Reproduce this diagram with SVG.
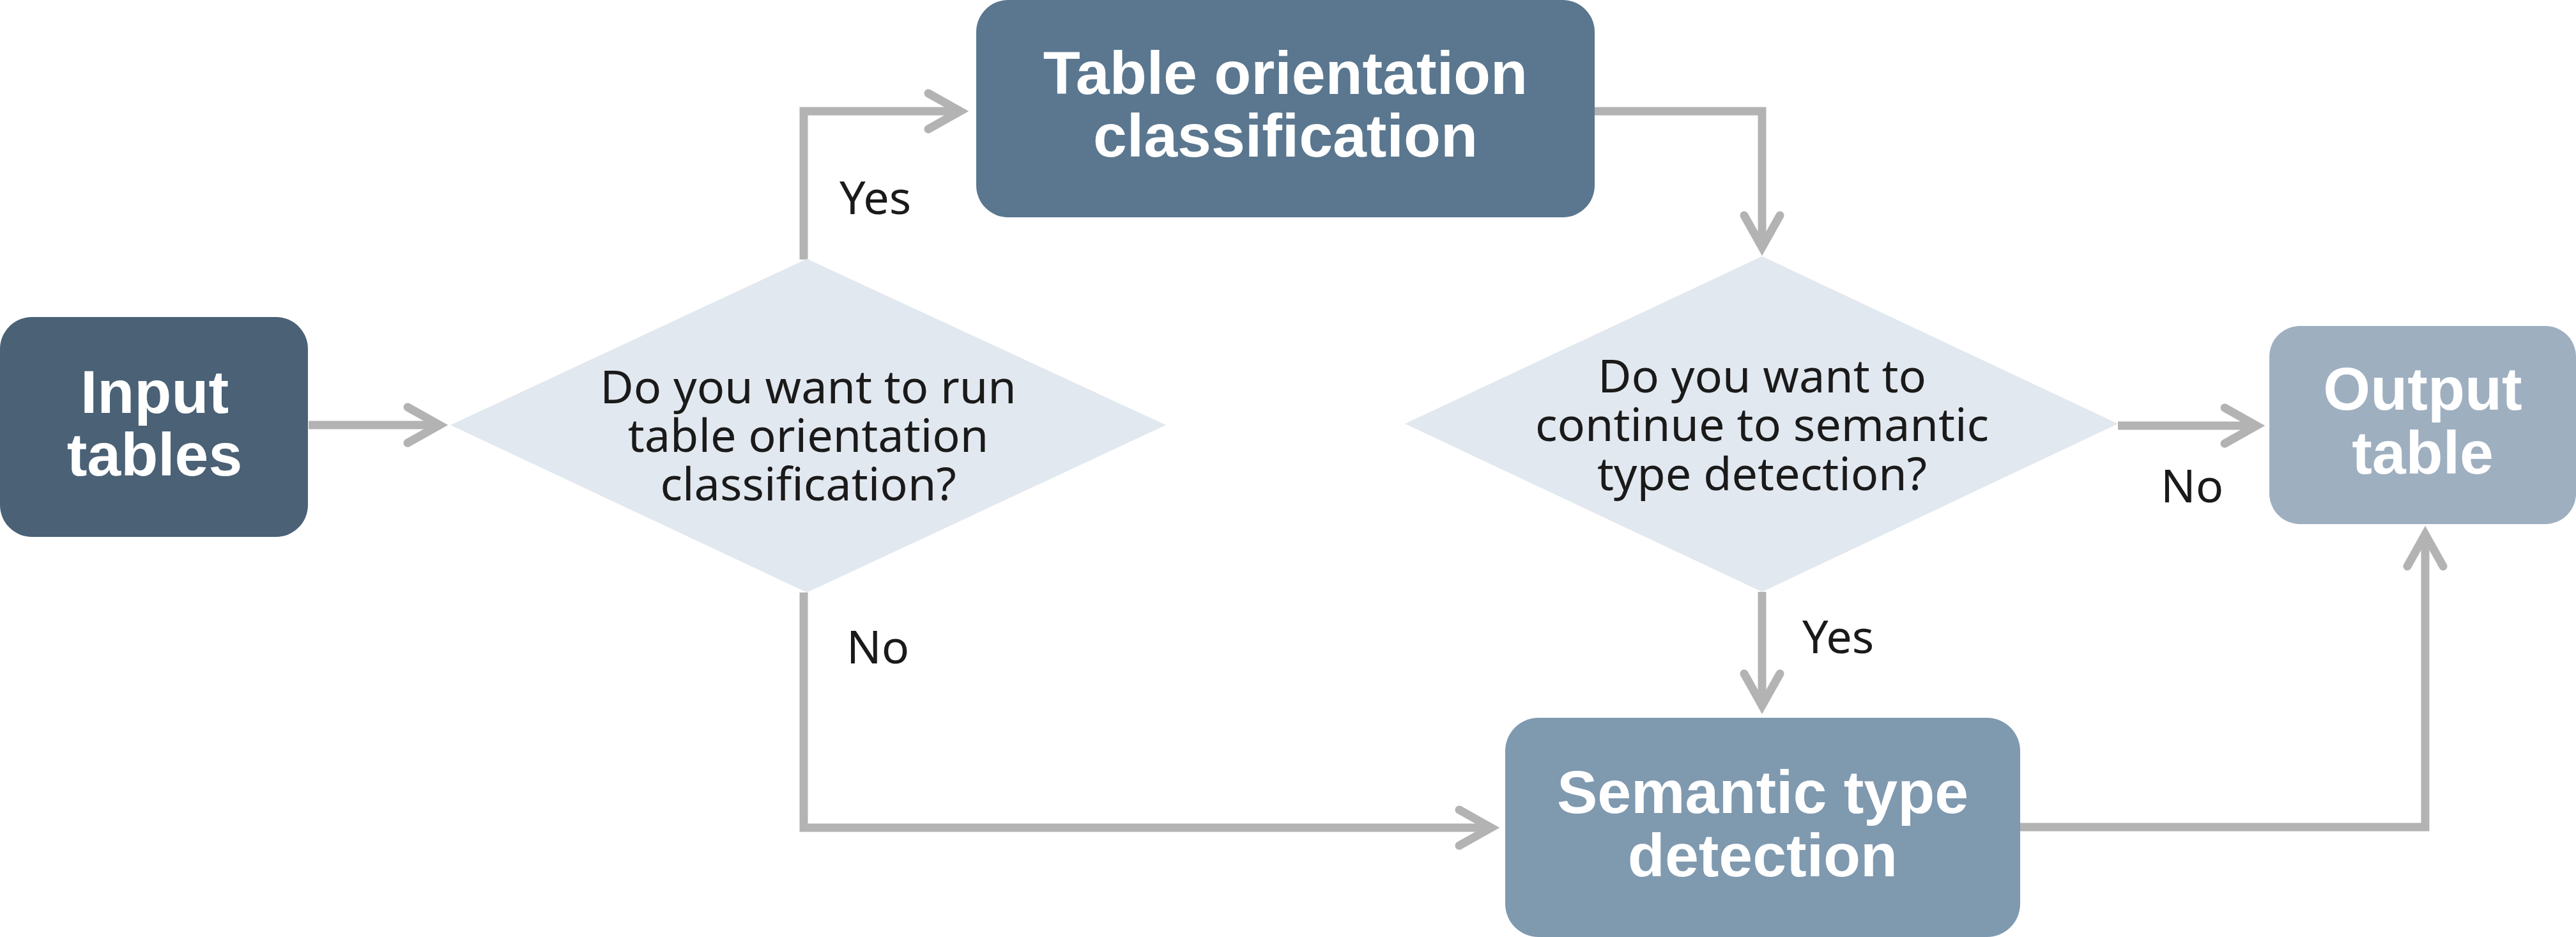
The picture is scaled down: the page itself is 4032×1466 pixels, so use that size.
<svg xmlns="http://www.w3.org/2000/svg" width="4032" height="1466" viewBox="0 0 4032 1466">
<style>
.title{font-family:"Liberation Sans",Arial,sans-serif;font-weight:bold;font-size:95px;fill:#ffffff;text-anchor:middle}
.q{font-family:"Noto Sans","Liberation Sans",sans-serif;font-size:72px;fill:#1a1a1a;text-anchor:middle}
.lbl{font-family:"Noto Sans","Liberation Sans",sans-serif;font-size:72px;fill:#1a1a1a}
.conn{fill:none;stroke:#b3b3b3;stroke-width:13;stroke-linejoin:miter}
.diamond{fill:#e2e8ef}
</style>
<defs>
<marker id="chev" markerUnits="userSpaceOnUse" viewBox="-80 -50 110 100" refX="0" refY="0" markerWidth="110" markerHeight="100" orient="auto" overflow="visible">
<path d="M-50,-28 L0,0 L-50,28" fill="none" stroke="#b3b3b3" stroke-width="13" stroke-linecap="round" stroke-linejoin="miter"/>
</marker>
</defs>
<rect width="4032" height="1466" fill="#ffffff"/>
<g id="connectors">
<path class="conn" d="M483,665 H688" marker-end="url(#chev)"/>
<path class="conn" d="M1258,406 V174 H1503" marker-end="url(#chev)"/>
<path class="conn" d="M2496,174 H2758 V387" marker-end="url(#chev)"/>
<path class="conn" d="M3315,666 H3532" marker-end="url(#chev)"/>
<path class="conn" d="M2758,926 V1104" marker-end="url(#chev)"/>
<path class="conn" d="M1258,927 V1295 H2334" marker-end="url(#chev)"/>
<path class="conn" d="M3162,1294 H3796 V836" marker-end="url(#chev)"/>
</g>
<g id="input-tables">
<rect x="0" y="496" width="482" height="344" rx="50" fill="#4a6176"/>
<text class="title" x="242" y="646">Input</text>
<text class="title" x="242" y="744">tables</text>
</g>
<g id="decision-orientation">
<polygon class="diamond" points="705,665 1263,405 1825,665 1263,927"/>
<text class="q" x="1265" y="631">Do you want to run</text>
<text class="q" x="1265" y="707">table orientation</text>
<text class="q" x="1265" y="783">classification?</text>
</g>
<g id="table-orientation">
<rect x="1528" y="0" width="968" height="340" rx="50" fill="#5a778f"/>
<text class="title" x="2012" y="147">Table orientation</text>
<text class="title" x="2012" y="245">classification</text>
</g>
<g id="decision-semantic">
<polygon class="diamond" points="2199,663 2758,401 3315,663 2758,926"/>
<text class="q" x="2758" y="614">Do you want to</text>
<text class="q" x="2758" y="690">continue to semantic</text>
<text class="q" x="2758" y="767">type detection?</text>
</g>
<g id="output-table">
<rect x="3552" y="510" width="480" height="310" rx="48" fill="#9eafc0"/>
<text class="title" x="3792" y="641">Output</text>
<text class="title" x="3792" y="741">table</text>
</g>
<g id="semantic-type-detection">
<rect x="2356" y="1123" width="806" height="343" rx="52" fill="#7f99af"/>
<text class="title" x="2759" y="1272">Semantic type</text>
<text class="title" x="2759" y="1371">detection</text>
</g>
<g id="labels">
<text class="lbl" x="1314" y="335">Yes</text>
<text class="lbl" x="1325" y="1038">No</text>
<text class="lbl" x="2821" y="1022">Yes</text>
<text class="lbl" x="3382" y="786">No</text>
</g>
</svg>
